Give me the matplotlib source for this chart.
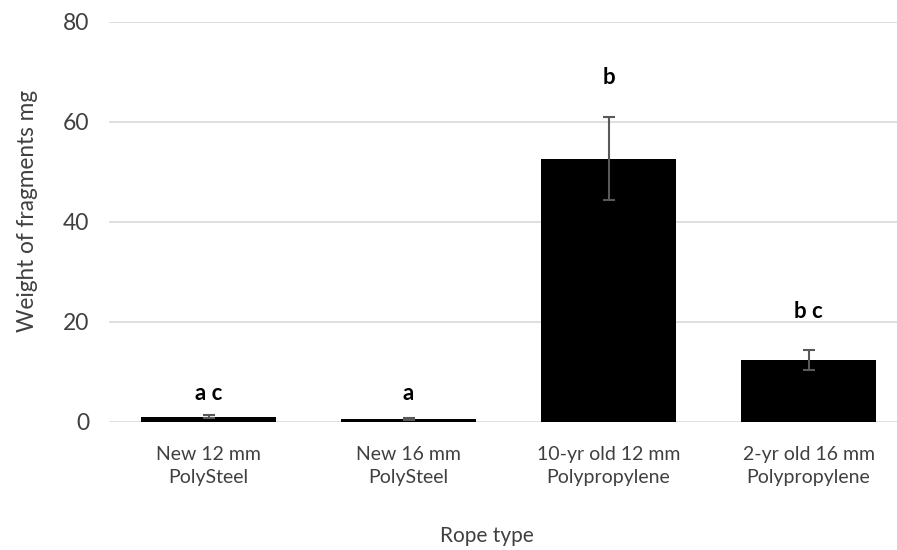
import matplotlib.pyplot as plt
import numpy as np

# Data
ropes = ["New 12 mm\nPolySteel", "New 16 mm\nPolySteel",
         "10-yr old 12 mm\nPolypropylene", "2-yr old 16 mm\nPolypropylene"]
weights = [1.1, 0.6, 52.7, 12.4]
errors = [0.3, 0.2, 8.3, 2.0]
letters = ["a c", "a", "b", "b c"]
letter_y = [5.8, 5.8, 68.9, 22.0]

plt.rcParams["font.family"] = ["Lato", "DejaVu Sans"]
text_color = "#404040"

fig = plt.figure(figsize=(8.97, 5.5), dpi=100)
ax = fig.add_axes([108.5 / 897, 128 / 550, 800 / 897, 400 / 550])

x = np.arange(len(ropes))
ax.bar(x, weights, width=0.675, color="black", zorder=3)
ax.errorbar(x, weights, yerr=errors, fmt="none", ecolor="#595959",
            elinewidth=1.5, capsize=4.5, capthick=1.5, zorder=4)

for xi, lab, ly in zip(x, letters, letter_y):
    ax.text(xi, ly, lab, ha="center", va="center", fontsize=16,
            fontweight="bold", color="black")

ax.set_xlim(-0.5, len(ropes) - 0.5)
ax.set_ylim(0, 80)
ax.set_yticks([0, 20, 40, 60, 80])
ax.set_xticks(x)
ax.set_xticklabels(ropes, fontsize=14, color=text_color, linespacing=1.45)
ax.tick_params(axis="y", labelsize=16.5, labelcolor=text_color, length=0, pad=14)
ax.tick_params(axis="x", length=0, pad=17)
ax.grid(axis="y", color="#d9d9d9", linewidth=1.2, zorder=0)
for s in ax.spines.values():
    s.set_visible(False)

fig.text(28 / 897, 1 - 211 / 550, "Weight of fragments mg", rotation=90,
         ha="center", va="center", fontsize=16.3, color=text_color)
fig.text(487 / 897, 1 - 536 / 550, "Rope type", ha="center", va="center",
         fontsize=15, color=text_color)

fig.savefig("out.png", dpi=100)
